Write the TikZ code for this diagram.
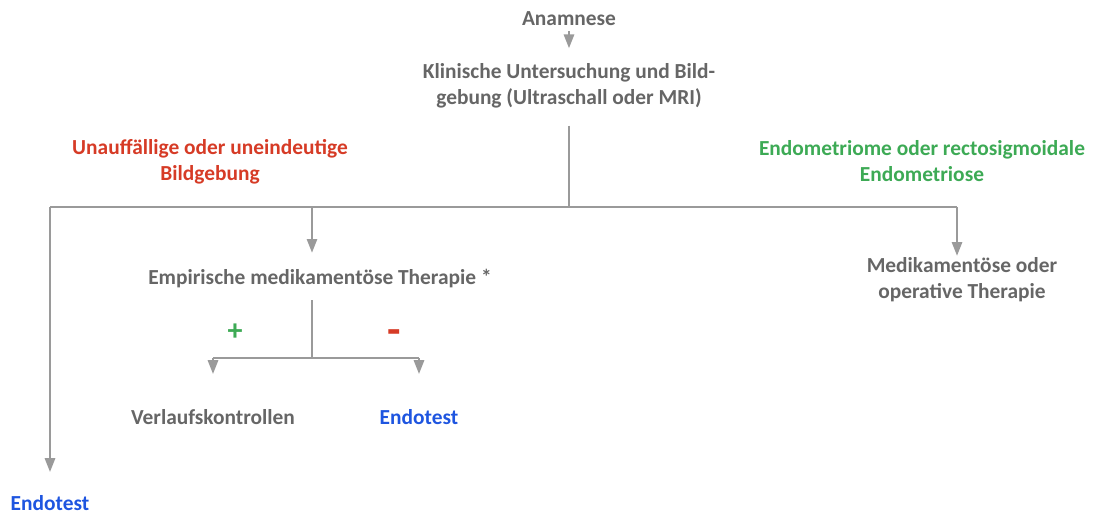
\documentclass[tikz,border=0pt]{standalone}
\usepackage{fontspec}
\setmainfont{Carlito}
\usetikzlibrary{arrows.meta}
\definecolor{txtgray}{HTML}{666666}
\definecolor{linegray}{HTML}{9A9A9A}
\definecolor{befred}{HTML}{D63B26}
\definecolor{befgreen}{HTML}{3DAA55}
\definecolor{endoblue}{HTML}{1E55E0}

\begin{document}
\begin{tikzpicture}[x=1pt, y=-1pt,
    every node/.style={font=\fontsize{21.4}{26}\selectfont\bfseries, text=txtgray, align=center, inner sep=0pt},
    verbindung/.style={draw=linegray, line width=2.8pt},
    pfeil/.style={verbindung, -{Triangle[width=10pt,length=14pt]}}]
    \useasboundingbox (0,0) rectangle (1093,516);

    % Schritte
    \node (anamnese) at (569,19) {Anamnese};
    \node (klinik) at (569,86) {Klinische Untersuchung und Bild-\\gebung (Ultraschall oder MRI)};
    \node (empirisch) at (320,279) {Empirische medikament\"ose Therapie *};
    \node (medop) at (962,280) {Medikament\"ose oder\\operative Therapie};
    \node (verlauf) at (213,417) {Verlaufskontrollen};
    \node [text=endoblue] (endoB) at (419,417) {Endotest};
    \node [text=endoblue] (endoA) at (50,503) {Endotest};

    % Befunde
    \node [text=befred] (unklar) at (210,162) {Unauff\"allige oder uneindeutige\\Bildgebung};
    \node [text=befgreen] (befund) at (922,161) {Endometriome oder rectosigmoidale\\Endometriose};
    \node [text=befgreen, font=\fontsize{30}{26}\selectfont\bfseries] (plus) at (235,332) {+};
    \node [text=befred, font=\fontsize{44}{26}\selectfont\bfseries] (minus) at (394,337) {-};

    % Verzweigungen
    \coordinate (split) at (569,207);
    \coordinate (links) at (50,207);
    \coordinate (mitte) at (312,207);
    \coordinate (rechts) at (957,207);
    \coordinate (gabel) at (312,358);
    \coordinate (gabelL) at (213,358);
    \coordinate (gabelR) at (419,358);

    % Pfeile
    \draw[pfeil, shorten <=5pt, shorten >=15pt] (anamnese) -- (klinik);
    \draw[verbindung, shorten <=17pt] (klinik) -- (split);
    \draw[verbindung] (links) -- (rechts);
    \draw[pfeil, shorten >=23pt] (links) -- (endoA);
    \draw[pfeil, shorten >=26pt] (mitte) -- (mitte |- empirisch);
    \draw[pfeil, shorten >=24pt] (rechts) -- (rechts |- medop);
    \draw[verbindung, shorten <=21pt] (mitte |- empirisch) -- (gabel);
    \draw[verbindung] (gabelL) -- (gabelR);
    \draw[pfeil, shorten >=35pt] (gabelL) -- (verlauf);
    \draw[pfeil, shorten >=35pt] (gabelR) -- (endoB);
\end{tikzpicture}
\end{document}
